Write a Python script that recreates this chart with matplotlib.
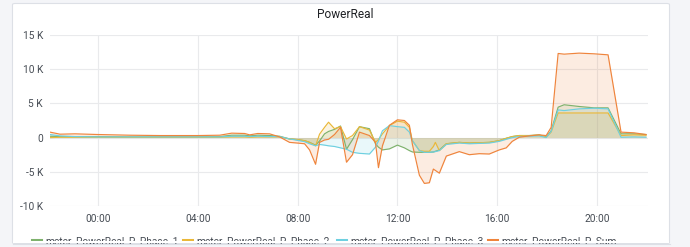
import matplotlib
matplotlib.use("Agg")
import matplotlib.pyplot as plt
from matplotlib.patches import Rectangle, FancyBboxPatch
from matplotlib.lines import Line2D

plt.rcParams['font.family'] = ['Roboto', 'DejaVu Sans']

# hours relative to 00:00 (negative = previous evening)
hours = [-1.92, -1.52, -0.92, 0.0, 1.28, 2.48, 4.0, 4.88, 5.36, 5.88, 6.08, 6.4, 6.88,
         7.28, 7.68, 8.0, 8.28, 8.48, 8.72, 8.88, 9.08, 9.24, 9.48, 9.72, 9.96, 10.2,
         10.48, 10.88, 11.12, 11.24, 11.4, 11.68, 12.0, 12.28, 12.48, 12.6, 12.88, 13.08,
         13.28, 13.44, 13.52, 13.68, 13.96, 14.48, 14.88, 15.28, 15.68, 16.08, 16.36,
         16.6, 16.88, 17.28, 17.68, 17.96, 18.16, 18.44, 18.68, 19.28, 19.88, 20.44,
         20.96, 21.48, 21.96]

phase1 = [200, 150, 150, 150, 100, 100, 100, 150, 350, 350, 250, 350, 300,
          200, -200, -300, -450, -700, -1100, -500, 550, 900, 1200, 1700, -1700, -300,
          1600, 1300, -900, -1400, -1800, -1650, -1100, -1500, -1900, -2100, -2150, -2150,
          -2150, -2100, -2000, -1800, -900, -700, -800, -750, -700, -450, -100,
          150, 300, 300, 400, 100, 1000, 4450, 4800, 4550, 4350, 4350,
          550, 550, 450]

phase2 = [0, 50, 50, 50, 50, 50, 50, 50, 100, 100, 50, 100, 100,
          100, -200, -300, -450, -700, -1200, 500, 1500, 2250, 1300, 1600, -200, 300,
          1600, 1100, -700, -300, 550, 1750, 2400, 2250, 1500, -450, -1900, -2000,
          -2000, -1300, -700, -1900, -900, -700, -800, -750, -700, -450, -100,
          150, 300, 300, 350, 50, 800, 3600, 3600, 3600, 3600, 3600,
          300, 400, 350]

phase3 = [450, 250, 150, 100, 100, 100, 100, 100, 200, 200, 150, 200, 150,
          150, -200, -400, -600, -900, -1200, -1000, -1100, -1200, -1300, -1500, -1700, -2150,
          -2300, -2400, -1400, -500, 1000, 1750, 1600, 1500, 800, -450, -1900, -2150,
          -2150, -2100, -2050, -1900, -1000, -800, -900, -850, -800, -550, -250,
          0, 150, 200, 250, 0, 900, 4050, 3950, 4200, 4300, 4200,
          50, 100, 50]

psum = [800, 500, 550, 450, 350, 300, 300, 350, 650, 600, 400, 600, 550,
        100, -700, -800, -900, -1800, -3900, -700, -350, -250, 450, 1500, -3600, -2500,
        800, 300, -700, -4400, -1200, 1800, 2600, 2500, 1800, -1000, -5500, -6700,
        -6600, -4600, -4800, -5200, -2700, -2050, -2500, -2350, -2400, -1800, -1500,
        -550, 50, 250, 400, 300, 1500, 12300, 12200, 12350, 12250, 12100,
        800, 700, 450]

names = ['meter_PowerReal_P_Phase_1', 'meter_PowerReal_P_Phase_2',
         'meter_PowerReal_P_Phase_3', 'meter_PowerReal_P_Sum']
colors = ['#7eb26d', '#eab839', '#6ed0e0', '#ef843c']
series = [phase1, phase2, phase3, psum]

xticks = [0, 4, 8, 12, 16, 20]
xlabels = ['00:00', '04:00', '08:00', '12:00', '16:00', '20:00']
yticks = [-10000, -5000, 0, 5000, 10000, 15000]
ylabels = ['-10 K', '-5 K', '0', '5 K', '10 K', '15 K']

W, H = 690, 247
fig = plt.figure(figsize=(6.9, 2.47), dpi=100, facecolor='#f4f5f8')

# panel card
card = FancyBboxPatch((12.5 / W, 1 - 243.5 / H), 657 / W, 240 / H,
                      boxstyle='round,pad=0,rounding_size=0.004',
                      transform=fig.transFigure, facecolor='white',
                      edgecolor='#dde0e6', linewidth=0.8, zorder=-1)
fig.patches.append(card)

ax = fig.add_axes([50 / W, 1 - 206 / H, 598 / W, 171 / H])
ax.set_zorder(5)
ax.set_facecolor('none')
for s, c in zip(series, colors):
    ax.fill_between(hours, s, 0, color=c, alpha=0.15, linewidth=0)
    ax.plot(hours, s, color=c, linewidth=0.85)

ax.set_xlim(-1.92, 22.04)
ax.set_ylim(-10000, 15000)
ax.set_xticks(xticks)
ax.set_xticklabels(xlabels)
ax.set_yticks(yticks)
ax.set_yticklabels(ylabels)
ax.tick_params(length=0, labelsize=7.3, labelcolor='#464c54')
ax.tick_params(axis='x', pad=6)
ax.tick_params(axis='y', pad=5)
ax.grid(True, color='#e9eaec', linewidth=0.8)
ax.set_axisbelow(True)
for sp in ax.spines.values():
    sp.set_visible(False)

fig.text(345 / W, 1 - 15 / H, 'PowerReal', ha='center', va='center',
         fontsize=8.6, color='#202226')

# legend at the bottom, cut off by the panel edge
leg_x = [32, 183, 337, 488]
for x0, name, c in zip(leg_x, names, colors):
    fig.lines.append(Line2D([x0 / W, (x0 + 9) / W], [1 - 239.5 / H] * 2,
                            transform=fig.transFigure, color=c, linewidth=2.2))
    fig.text((x0 + 13) / W, 1 - 241 / H, name, ha='left', va='center',
             fontsize=7.3, color='#464c54')

fig.patches.append(Rectangle((13 / W, 1 - 243 / H), 656 / W, 2.0 / H,
                             transform=fig.transFigure, facecolor='white',
                             edgecolor='none', zorder=20))
fig.patches.append(Rectangle((0, 0), 1, 3.5 / H, transform=fig.transFigure,
                             facecolor='#f4f5f8', edgecolor='none', zorder=20))
fig.lines.append(Line2D([12.5 / W, 669.5 / W], [1 - 243.5 / H] * 2,
                        transform=fig.transFigure, color='#dde0e6',
                        linewidth=0.8, zorder=21))

fig.savefig('out.png', dpi=100, facecolor=fig.get_facecolor())
